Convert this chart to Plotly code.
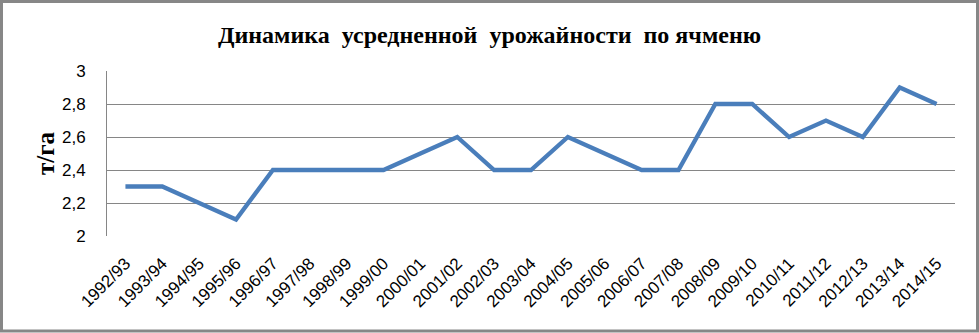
import plotly.graph_objects as go

seasons = ["1992/93", "1993/94", "1994/95", "1995/96", "1996/97", "1997/98", "1998/99",
           "1999/00", "2000/01", "2001/02", "2002/03", "2003/04", "2004/05", "2005/06",
           "2006/07", "2007/08", "2008/09", "2009/10", "2010/11", "2011/12", "2012/13",
           "2013/14", "2014/15"]
yields = [2.3, 2.3, 2.2, 2.1, 2.4, 2.4, 2.4, 2.4, 2.5, 2.6, 2.4, 2.4, 2.6, 2.5, 2.4, 2.4,
          2.8, 2.8, 2.6, 2.7, 2.6, 2.9, 2.8]
y_ticks = [2, 2.2, 2.4, 2.6, 2.8, 3]
y_tick_text = ["2", "2,2", "2,4", "2,6", "2,8", "3"]

W, H = 979, 333
L, R, T, B = 107, 24, 71, 97
pw, ph = W - L - R, H - T - B

fig = go.Figure()
fig.add_trace(go.Scatter(x=list(range(len(seasons))), y=yields, mode="lines",
                         line=dict(color="#4A7EBB", width=4.3), showlegend=False))

fig.update_layout(
    width=W, height=H,
    margin=dict(l=L, r=R, t=T, b=B),
    paper_bgcolor="white", plot_bgcolor="white",
    title=dict(text="<b>Динамика  усредненной  урожайности  по ячменю</b>",
               x=0.5, xref="container", xanchor="center", y=1 - 35 / H, yanchor="middle",
               font=dict(family="Liberation Serif", size=24, color="black")),
    xaxis=dict(range=[-0.5, len(seasons) - 0.5], tickmode="array",
               tickvals=list(range(len(seasons))), ticktext=seasons, tickangle=-45,
               showgrid=False, showline=False, zeroline=False,
               ticks="outside", ticklen=10, tickcolor="white",
               tickfont=dict(family="Liberation Sans", size=17, color="black")),
    yaxis=dict(range=[2, 3], tickmode="array", tickvals=y_ticks, ticktext=y_tick_text,
               showgrid=True, gridcolor="#868686", gridwidth=1, zeroline=False,
               showline=True, linecolor="#868686", linewidth=1, ticks="",
               ticklabelstandoff=17,
               tickfont=dict(family="Liberation Sans", size=17, color="black")),
    annotations=[dict(text="<b>т/га</b>", xref="paper", yref="paper",
                      x=(45 - L) / pw, y=(T + ph - 153) / ph, textangle=-90,
                      showarrow=False, xanchor="center", yanchor="middle",
                      font=dict(family="Liberation Serif", size=25, color="black"))],
    shapes=[dict(type="rect", xref="paper", yref="paper",
                 x0=(1.5 - L) / pw, x1=(977.5 - L) / pw,
                 y0=(T + ph - 331) / ph, y1=(T + ph - 1.5) / ph,
                 line=dict(color="#878787", width=3), fillcolor="rgba(0,0,0,0)", layer="below")],
)

fig.write_html("out.html")
